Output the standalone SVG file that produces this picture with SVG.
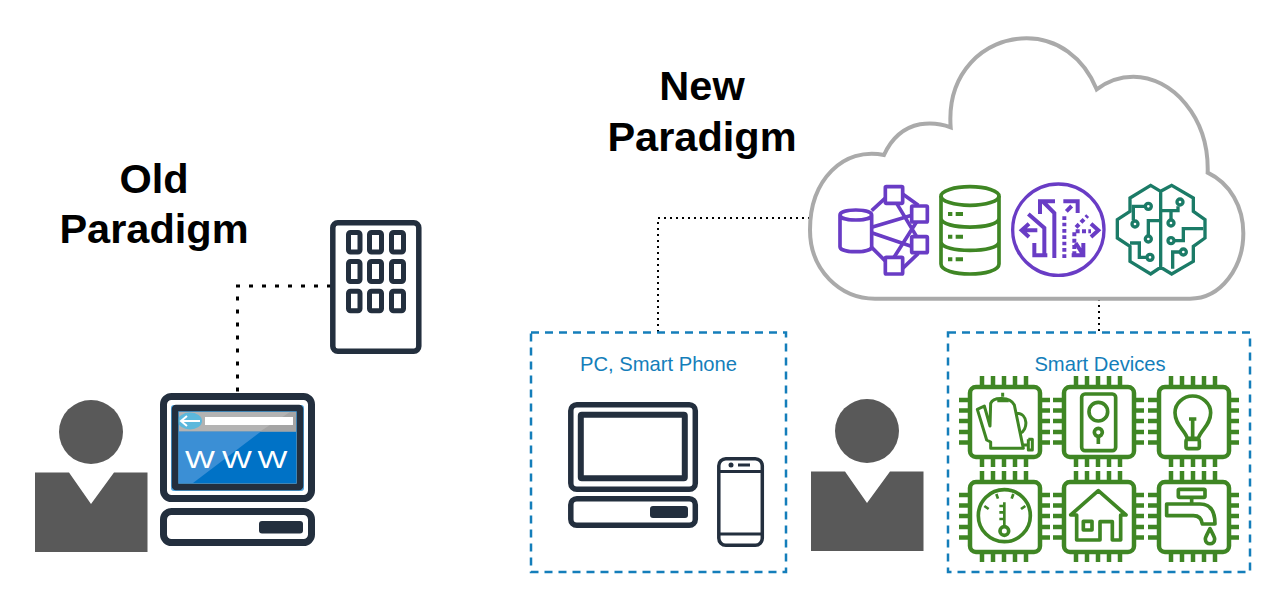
<svg xmlns="http://www.w3.org/2000/svg" width="1283" height="610" viewBox="0 0 1283 610">
<style>
.title{font-family:"Liberation Sans",Arial,sans-serif;font-weight:700;font-size:41.5px;fill:#000;text-anchor:middle}
.lbl{font-family:"Liberation Sans",Arial,sans-serif;font-size:20.2px;fill:#147EBA;text-anchor:middle}
.person{fill:#595959}
.navy{fill:none;stroke:#232F3E;stroke-linejoin:round}
.navyf{fill:#232F3E}
.box{fill:none;stroke:#147EBA;stroke-width:2.5;stroke-dasharray:8 6}
.g{fill:none;stroke:#3F8624;stroke-width:11;stroke-linejoin:round}
.pin{fill:none;stroke:#3F8624;stroke-width:4.5}
.chip{fill:#fff;stroke:#3F8624;stroke-width:4.5}
.p{fill:none;stroke:#693CC5;stroke-width:11;stroke-linejoin:miter}
.t{fill:none;stroke:#1B7B67;stroke-width:10;stroke-linejoin:miter}
.d{fill:none;stroke:#000}
</style>
<defs>
<g id="chipbase">
<path class="pin" d="M14-9V0M25-9V0M36-9V0M47-9V0M58-9V0M14 73V82M25 73V82M36 73V82M47 73V82M58 73V82M-9 15H0M-9 25.500H0M-9 36H0M-9 47H0M-9 57.500H0M73 15H82M73 25.500H82M73 36H82M73 47H82M73 57.500H82"/>
<rect class="chip" x="2" y="2" width="70" height="70" rx="6"/>
</g>
<g id="person">
<circle class="person" cx="0" cy="-39" r="32"/>
<path class="person" d="M-56 1.500H-22L0 33 23 1.500H56.500V81H-56Z"/>
</g>
</defs>

<g id="connectors">
<path class="d" stroke-width="3" stroke-dasharray="4 9" d="M331 286H237.500V393"/>
<path class="d" stroke-width="2" stroke-dasharray="2 4" d="M810 218H658V332"/>
<path class="d" stroke-width="2" stroke-dasharray="2 4" d="M1099 299V332"/>
</g>

<g id="title-old">
<text class="title" x="154" y="193">Old</text>
<text class="title" x="154" y="243">Paradigm</text>
</g>
<g id="title-new">
<text class="title" x="702" y="100">New</text>
<text class="title" x="702" y="151">Paradigm</text>
</g>

<g id="person-old"><use href="#person" x="91" y="471"/></g>
<g id="person-new"><use href="#person" x="867" y="470"/></g>

<g id="building">
<rect class="navy" x="332.800" y="222.800" width="86" height="128.500" rx="5" stroke-width="5.500"/>
<g class="navy" stroke-width="5">
<rect x="348.500" y="232.500" width="11.500" height="19.500" rx="2"/><rect x="369.500" y="232.500" width="12" height="19.500" rx="2"/><rect x="391.500" y="232.500" width="12" height="19.500" rx="2"/>
<rect x="348.500" y="261.500" width="11.500" height="20" rx="2"/><rect x="369.500" y="261.500" width="12" height="20" rx="2"/><rect x="391.500" y="261.500" width="12" height="20" rx="2"/>
<rect x="348.500" y="291.300" width="11.500" height="19.500" rx="2"/><rect x="369.500" y="291.300" width="12" height="19.500" rx="2"/><rect x="391.500" y="291.300" width="12" height="19.500" rx="2"/>
</g>
</g>

<g id="browser-pc">
<rect class="navy" x="163.500" y="396.500" width="148" height="102" rx="8" stroke-width="7"/>
<rect x="171" y="405" width="133" height="86" rx="3" fill="#4CA3DD"/>
<rect x="179" y="412" width="117" height="71" fill="#0072C6"/>
<path d="M179 431.500H261L193 483H179Z" fill="#3B8FD5"/>
<rect x="179" y="412" width="117" height="19.500" fill="#B3B3B3"/>
<path d="M260 431.500L290 412H296V431.500Z" fill="#A4A4A4"/>
<ellipse cx="190" cy="421" rx="12" ry="8.500" fill="#5CB8DC"/>
<path d="M181 421H200M187 416L181 421 187 426" fill="none" stroke="#fff" stroke-width="2"/>
<rect x="205" y="417" width="88" height="8" fill="#fff"/>
<text transform="translate(185 468) scale(1.32 1)" x="0 28 55" y="0" font-family="'Liberation Sans',Arial,sans-serif" font-size="24" fill="#fff">WWW</text>
<rect class="navy" x="175" y="408" width="125" height="79" rx="1" stroke-width="6.500"/>
<rect class="navy" x="163.500" y="511.500" width="148" height="31" rx="8" stroke-width="7"/>
<rect class="navyf" x="259" y="521" width="44" height="12.500" rx="3"/>
</g>

<g id="cloud">
<path fill="#fff" stroke="#AAAAAA" stroke-width="12" transform="translate(800 30) scale(.33333)" d="M225 806H1170C1265 806 1330 710 1330 610C1330 530 1290 460 1223 428C1228 260 1115 140 1000 140C960 140 920 155 890 178C850 80 770 25 680 25C550 25 440 130 452 292C420 280 390 278 360 283C310 293 275 325 252 375C130 350 30 450 30 600C30 720 120 806 225 806Z"/>
</g>

<g id="icon-ml" transform="translate(820 170) scale(.33333)">
<path class="p" d="M60 135V230C60 250 155 250 155 230V135M60 135C60 115 155 115 155 135C155 155 60 155 60 135Z"/>
<path class="p" d="M155 122L195 85M248 72L295 106M155 172L278 135M155 188L278 230M155 232L195 272M248 295L295 250M230 100L290 200M222 262L290 155"/>
<rect class="p" x="196" y="50" width="52" height="50" style="fill:#fff" rx="3"/>
<rect class="p" x="275" y="108" width="47" height="48" style="fill:#fff" rx="3"/>
<rect class="p" x="275" y="200" width="47" height="48" style="fill:#fff" rx="3"/>
<rect class="p" x="196" y="262" width="52" height="50" style="fill:#fff" rx="3"/>
</g>

<g id="icon-db" transform="translate(820 170) scale(.33333)">
<g class="g">
<ellipse cx="450" cy="78" rx="87" ry="28"/>
<path d="M363 78V282C363 322 537 322 537 282V78M363 145C363 180 537 180 537 145M363 215C363 250 537 250 537 215"/>
</g>
<path d="M384 132H397M407 132H429M384 200H397M407 200H429M384 268H397M407 268H429" stroke="#3F8624" stroke-width="12" fill="none"/>
</g>

<g id="icon-switch" transform="translate(1005 178) scale(.33333)">
<circle class="p" cx="160" cy="155" r="137" style="stroke-width:10"/>
<g class="p" style="stroke-width:12">
<path d="M148 240V105L115 72M105 108V70H150"/>
<path d="M70 108L118 150V232M88 195V232H127"/>
<path d="M97 157H52M72 137L50 157 72 177"/>
<path d="M175 70H218V105"/>
<path d="M178 240V110" stroke-dasharray="11 8"/>
<path d="M184 100L200 84"/>
<path d="M213 148L248 113" stroke-dasharray="13 8"/>
<path d="M208 232V160H258" stroke-dasharray="12 7"/>
<path d="M258 137L280 157 258 177"/>
<path d="M200 232H235V195M212 195L233 228"/>
</g>
</g>

<g id="icon-brain" transform="translate(1110 178) scale(.33333)">
<g class="t">
<path d="M152 40L122 22 60 60V100L22 125V180L60 205V250L122 288 152 268 185 288 250 250V205L285 180V125L250 100V60L185 22 152 40ZM152 40V268"/>
<path d="M106 85H70V127M115 172V128H152M60 195H88V238H110M204 85V98H152M183 126V98M192 188H220V152H280M210 222H188V272"/>
<circle cx="115" cy="85" r="9"/><circle cx="75" cy="138" r="9"/><circle cx="115" cy="183" r="9"/><circle cx="120" cy="238" r="9"/>
<circle cx="210" cy="72" r="9"/><circle cx="183" cy="135" r="9"/><circle cx="183" cy="188" r="9"/><circle cx="220" cy="222" r="9"/>
</g>
</g>

<g id="box-pc">
<rect class="box" x="531" y="332.500" width="255" height="239.500"/>
<text class="lbl" x="658.500" y="370.500">PC, Smart Phone</text>
<rect class="navy" x="570.800" y="404.800" width="124.500" height="84.500" rx="6" stroke-width="5.500"/>
<rect class="navy" x="580.800" y="414.800" width="104" height="63.500" rx="1" stroke-width="6"/>
<rect class="navy" x="570.800" y="498.800" width="124.500" height="26.500" rx="6" stroke-width="5.500"/>
<rect class="navyf" x="650" y="506" width="38" height="12" rx="3"/>
<rect class="navy" x="718.800" y="458.800" width="43.500" height="86.500" rx="7" stroke-width="3.500"/>
<path class="navy" d="M719 471.500H762M719 534H762" stroke-width="3"/>
<circle class="navyf" cx="731" cy="465" r="2.500"/>
<rect class="navyf" x="738" y="463.500" width="12" height="3"/>
</g>

<g id="box-devices">
<rect class="box" x="948" y="332.500" width="302" height="239.500"/>
<text class="lbl" x="1100" y="370.500">Smart Devices</text>
</g>

<g id="chip-kettle">
<use href="#chipbase" x="968" y="385"/>
<path transform="translate(960 380) scale(.33333)" fill="none" stroke="#3F8624" stroke-width="9" stroke-linejoin="round" d="M52 88L73 78 90 138 92 70C100 50 150 50 163 75L190 205H92V186L80 180ZM112 62H146M128 38V50M170 100C205 100 205 150 180 160M190 195H205M205 178H217V210H205V178"/>
</g>

<g id="chip-doorbell">
<use href="#chipbase" x="1062" y="385"/>
<g class="g" transform="translate(950 370) scale(.33333)">
<rect x="395" y="72" width="102" height="170" rx="10"/>
<circle cx="445" cy="125" r="28"/>
<circle cx="445" cy="187" r="12"/>
<path d="M445 199V222"/>
</g>
</g>

<g id="chip-bulb">
<use href="#chipbase" x="1157" y="385"/>
<g class="g" transform="translate(950 370) scale(.33333)">
<path d="M712 205C705 180 675 165 675 128C675 100 700 78 728 78C756 78 782 100 782 128C782 165 752 180 745 205ZM728 205V147M717 147H739"/>
<rect x="708" y="208" width="40" height="28" rx="6"/>
</g>
</g>

<g id="chip-gauge">
<use href="#chipbase" x="968" y="480"/>
<g class="g" transform="translate(950 370) scale(.33333)">
<circle cx="163" cy="437" r="78"/>
<path d="M163 397V470M148 408H163M148 427H163M148 447H163M103 408L116 417M139 372L144 386M190 372L185 386M226 408L213 417" style="stroke-width:8"/>
<circle cx="163" cy="483" r="13"/>
</g>
</g>

<g id="chip-house">
<use href="#chipbase" x="1062" y="480"/>
<g class="g" transform="translate(950 370) scale(.33333)">
<path d="M362 435L445 362 528 435H512V510H487V455H450V510H380V435Z"/>
<rect x="400" y="454" width="26" height="26"/>
</g>
</g>

<g id="chip-tap">
<use href="#chipbase" x="1157" y="480"/>
<g class="g" transform="translate(950 370) scale(.33333)">
<rect x="685" y="358" width="80" height="24" rx="3"/>
<path d="M725 382V402M650 402H750C785 402 795 430 795 462H757C755 445 745 437 730 437H650Z"/>
<path d="M780 476C772 492 766 500 766 507C766 526 794 526 794 507C794 500 788 492 780 476Z"/>
</g>
</g>
</svg>
